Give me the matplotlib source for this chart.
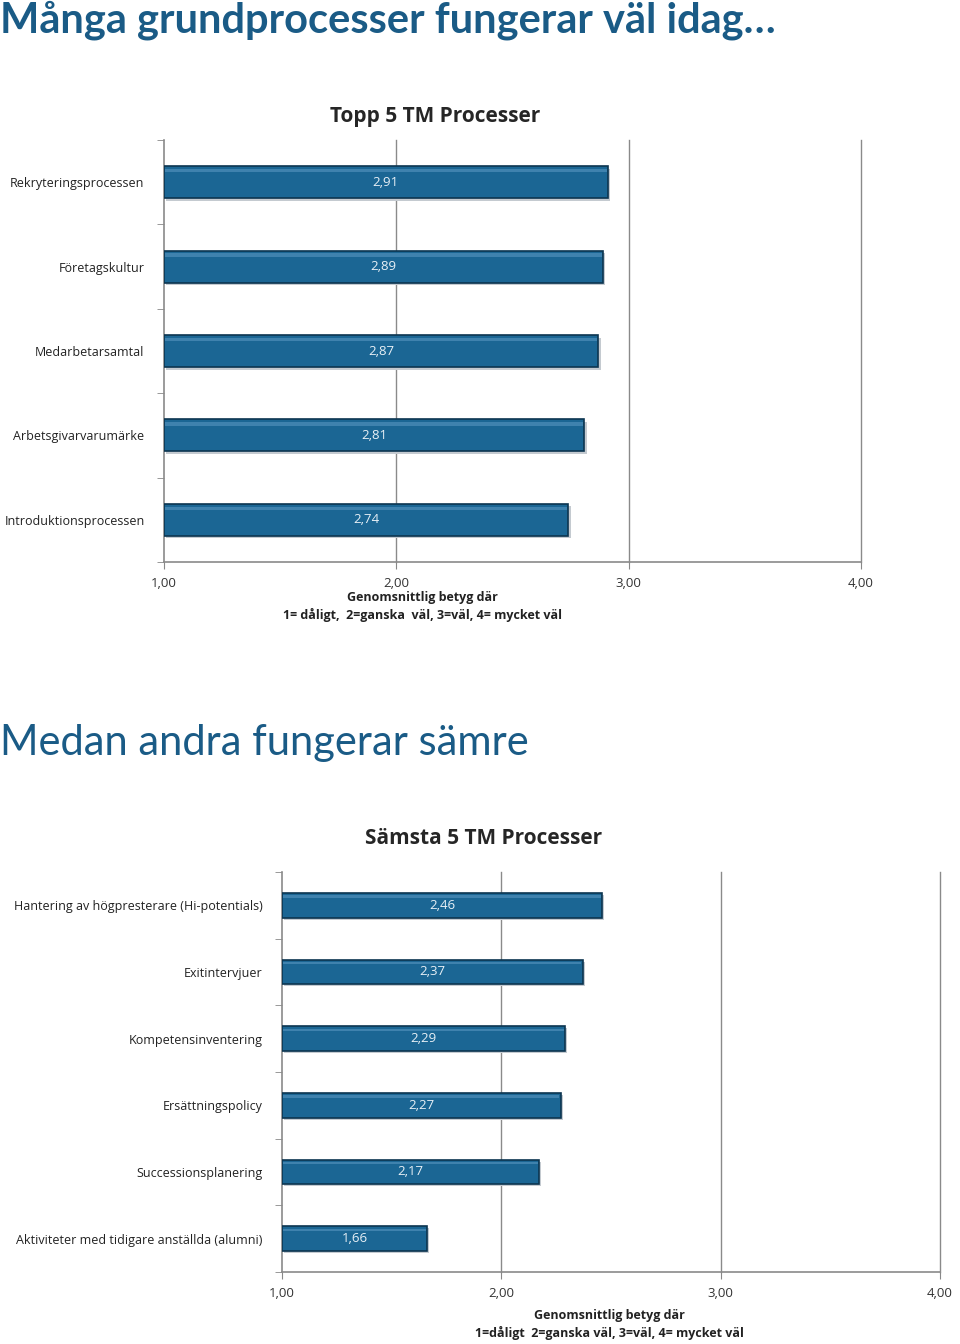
import matplotlib
matplotlib.use('Agg')
import matplotlib.pyplot as plt
import numpy as np

plt.rcParams['font.family'] = ['Open Sans', 'DejaVu Sans']

# data
top_labels = ['Rekryteringsprocessen', 'Företagskultur', 'Medarbetarsamtal',
              'Arbetsgivarvarumärke', 'Introduktionsprocessen']
top_vals = [2.91, 2.89, 2.87, 2.81, 2.74]

low_labels = ['Hantering av högpresterare (Hi-potentials)', 'Exitintervjuer',
              'Kompetensinventering', 'Ersättningspolicy', 'Successionsplanering',
              'Aktiviteter med tidigare anställda (alumni)']
low_vals = [2.46, 2.37, 2.29, 2.27, 2.17, 1.66]

xticks = [1, 2, 3, 4]
xticklabels = ['1,00', '2,00', '3,00', '4,00']

bar_col = '#1b6694'
edge_col = '#0c3550'
head_col = '#1a5b86'

fig = plt.figure(figsize=(9.6, 13.44), dpi=100)

fig.text(0.0, 0.985, 'Många grundprocesser fungerar väl idag…', fontsize=30,
         fontweight='bold', color=head_col, va='center', ha='left', family=['Lato', 'DejaVu Sans'])
fig.text(0.0, 0.447, 'Medan andra fungerar sämre', fontsize=30,
         color=head_col, va='center', ha='left', family=['Lato', 'DejaVu Sans'])


def draw(ax, labels, vals, barh):
    n = len(vals)
    y = np.arange(n)[::-1]
    # shadow
    ax.barh(y - 0.03, [v - 1 for v in vals], left=1.01, height=barh,
            color='#c4cad0', zorder=2)
    ax.barh(y, [v - 1 for v in vals], left=1, height=barh, color=bar_col,
            edgecolor=edge_col, linewidth=1.2, zorder=3)
    # highlight
    ax.barh(y + barh * 0.36, [v - 1.01 for v in vals], left=1.005,
            height=barh * 0.1, color='#3f82ae', zorder=4, linewidth=0)
    for yi, v in zip(y, vals):
        ax.text((1 + v) / 2, yi, ('%.2f' % v).replace('.', ','), color='#e8f0f6',
                ha='center', va='center', fontsize=9.5, zorder=5)
    ax.set_xlim(1, 4)
    ax.set_ylim(-0.5, n - 0.5)
    ax.set_xticks(xticks)
    ax.set_xticklabels(xticklabels, fontsize=9.5, color='#333333')
    ax.set_yticks(y)
    ax.set_yticklabels(labels, fontsize=9, color='#222222')
    ax.set_yticks(np.arange(n + 1) - 0.5, minor=True)
    ax.tick_params(axis='y', which='major', length=0, pad=14)
    ax.tick_params(axis='y', which='minor', length=5, color='#888888')
    ax.tick_params(axis='x', length=5, color='#888888', pad=6)
    for xv in xticks[1:]:
        ax.axvline(xv, color='#8a8a8a', linewidth=1, zorder=0, clip_on=False)
    for s in ['top', 'right']:
        ax.spines[s].set_visible(False)
    for s in ['left', 'bottom']:
        ax.spines[s].set_color('#8a8a8a')
        ax.spines[s].set_linewidth(1.2)


ax1 = fig.add_axes([0.1708, 0.5818, 0.726, 0.314])
draw(ax1, top_labels, top_vals, 0.38)
fig.text(0.453, 0.913, 'Topp 5 TM Processer', fontsize=15, fontweight='bold',
         color='#262626', ha='center', va='center')
fig.text(0.44, 0.5555, 'Genomsnittlig betyg där', fontsize=9, fontweight='bold',
         color='#222222', ha='center', va='center')
fig.text(0.44, 0.5425, '1= dåligt,  2=ganska  väl, 3=väl, 4= mycket väl', fontsize=9,
         fontweight='bold', color='#222222', ha='center', va='center')

ax2 = fig.add_axes([0.2938, 0.0536, 0.6854, 0.2976])
draw(ax2, low_labels, low_vals, 0.37)
fig.text(0.504, 0.376, 'Sämsta 5 TM Processer', fontsize=15, fontweight='bold',
         color='#262626', ha='center', va='center')
fig.text(0.635, 0.0215, 'Genomsnittlig betyg där', fontsize=9, fontweight='bold',
         color='#222222', ha='center', va='center')
fig.text(0.635, 0.0085, '1=dåligt  2=ganska väl, 3=väl, 4= mycket väl', fontsize=9,
         fontweight='bold', color='#222222', ha='center', va='center')

fig.savefig('out.png', dpi=100)
